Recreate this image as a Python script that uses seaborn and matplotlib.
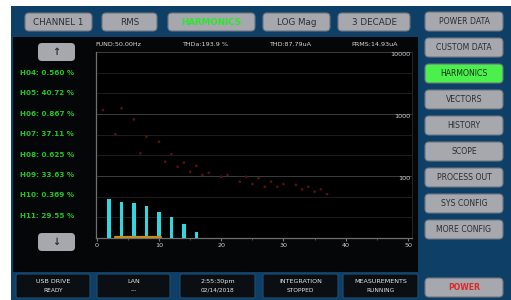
import numpy as np
import pandas as pd
import matplotlib
matplotlib.use('Agg')
import matplotlib.pyplot as plt
import seaborn as sns
from matplotlib.patches import FancyBboxPatch, Rectangle
from matplotlib.ticker import FixedLocator, NullFormatter

# spectrum data (harmonic order -> magnitude, log scale 10..10000)
bar_harm = [2, 4, 6, 8, 10, 12, 14, 16]
bar_vals = [42.6, 38.5, 36.3, 32.8, 26.5, 21.6, 16.8, 12.4]

dot_harm = [1, 3, 4, 6, 7, 8, 10, 11, 12, 13, 14, 15, 16, 17, 18, 20, 21,
            23, 24, 25, 26, 27, 28, 29, 30, 32, 33, 34, 35, 36, 37]
dot_vals = [1160, 471, 1236, 822, 232, 430, 357, 170, 224, 141, 164, 117, 145,
            104, 113, 97, 104, 81, 97, 74, 92, 67, 81, 67, 74, 72, 61, 67, 56,
            61, 51]

base_harm = [3, 10.4]
base_vals = [10.3, 10.3]

x_ticks = [0, 10, 20, 30, 40, 50]
y_ticks = [100, 1000, 10000]

# readouts on the left
read_names = ['H04', 'H05', 'H06', 'H07', 'H08', 'H09', 'H10', 'H11']
read_vals = ['0.560', '40.72', '0.867', '37.11', '0.625', '33.63', '0.369', '29.55']

info_text = ['FUND:50.00Hz', 'THDa:193.9 %', 'THD:87.79uA', 'PRMS:14.93uA']
top_buttons = ['CHANNEL 1', 'RMS', 'HARMONICS', 'LOG Mag', '3 DECADE']
side_buttons = ['POWER DATA', 'CUSTOM DATA', 'HARMONICS', 'VECTORS', 'HISTORY',
                'SCOPE', 'PROCESS OUT', 'SYS CONFIG', 'MORE CONFIG']
status_top = ['USB DRIVE', 'LAN', '2:55:30pm', 'INTEGRATION', 'MEASUREMENTS']
status_bot = ['READY', '---', '02/14/2018', 'STOPPED', 'RUNNING']

W, H = 511, 300
BLUE = '#0e3f66'
GRAY = '#a7a8ad'
DARK = '#2a2d33'

sns.set_style('dark')
plt.rcParams['font.family'] = ['DejaVu Sans']

fig = plt.figure(figsize=(W / 100, H / 100), dpi=100)
fig.patch.set_facecolor('white')

# background canvas in pixel coords
bg = fig.add_axes([0, 0, 1, 1], zorder=0)
bg.set_xlim(0, W)
bg.set_ylim(H, 0)
bg.axis('off')


def box(x0, y0, x1, y1, fc, ec='none', r=4, lw=0.8):
    bg.add_patch(FancyBboxPatch((x0 + r, y0 + r), x1 - x0 - 2 * r, y1 - y0 - 2 * r,
                                boxstyle='round,pad=%d' % r, fc=fc, ec=ec, lw=lw))


bg.add_patch(Rectangle((11, 6), W - 11, H - 6, fc=BLUE, ec='none'))
bg.add_patch(Rectangle((13, 37), 405, 235, fc='#050607', ec='none'))

# top row buttons
top_x = [(25, 92), (102, 157), (168, 255), (263, 330), (338, 410)]
for (x0, x1), lab in zip(top_x, top_buttons):
    box(x0, 13, x1, 31, GRAY, ec='#6d7480', r=4)
    if lab == 'HARMONICS':
        bg.text((x0 + x1) / 2, 22.5, lab, color='#2ee52e', fontsize=6.3,
                fontweight='bold', ha='center', va='center')
    else:
        bg.text((x0 + x1) / 2, 22.5, lab, color=DARK, fontsize=6.3,
                ha='center', va='center')

# side menu
side_y = [12, 38, 64, 90, 116, 142, 168, 194, 220]
for y0, lab in zip(side_y, side_buttons):
    active = lab == 'HARMONICS'
    box(425, y0, 503, y0 + 19, '#4cf04c' if active else GRAY,
        ec='#6d7480', r=4)
    bg.text(464, y0 + 9.5, lab, color='#163016' if active else DARK,
            fontsize=5.6, ha='center', va='center')
box(425, 278, 503, 297, GRAY, ec='#6d7480', r=4)
bg.text(464, 287.5, 'POWER', color='#e02828', fontsize=5.6, ha='center',
        va='center', fontweight='bold')

# arrows
box(38, 43, 75, 61, GRAY, r=4)
bg.text(56.5, 52, '\u2191', color=DARK, fontsize=7, ha='center', va='center',
        fontweight='bold')
box(38, 233, 75, 251, GRAY, r=4)
bg.text(56.5, 242, '\u2193', color=DARK, fontsize=7, ha='center', va='center',
        fontweight='bold')

# harmonic readouts
for i, (n, v) in enumerate(zip(read_names, read_vals)):
    bg.text(20, 73 + i * 20.4, '%s: %s %%' % (n, v), color='#22c422',
            fontsize=5.2, ha='left', va='center', fontweight='bold')

for xc, t in zip([118, 205, 290, 375], info_text):
    bg.text(xc, 45, t, color='#d8d8d8', fontsize=4.6, ha='center', va='center')

# status row
status_x = [(16, 90), (97, 170), (180, 255), (263, 338), (343, 418)]
for (x0, x1), a, b in zip(status_x, status_top, status_bot):
    box(x0, 274, x1, 298, '#0b0e12', ec='#1f4d70', r=2, lw=0.8)
    bg.text((x0 + x1) / 2, 281.5, a, color='#e6e6e6', fontsize=4.6,
            ha='center', va='center')
    bg.text((x0 + x1) / 2, 290.5, b, color='#e6e6e6', fontsize=4.2,
            ha='center', va='center')

# spectrum plot
ax = fig.add_axes([96 / W, 1 - 238 / H, (412 - 96) / W, (238 - 52) / H], zorder=1)
ax.set_facecolor('#000000')

bars = pd.DataFrame({'harm': bar_harm, 'val': bar_vals})
dots = pd.DataFrame({'harm': dot_harm, 'val': dot_vals})
base = pd.DataFrame({'harm': base_harm, 'val': base_vals})

ax.set_yscale('log')
sns.barplot(data=bars, x='harm', y='val', native_scale=True, width=0.27,
            color='#2fd8e0', saturation=1, linewidth=0, edgecolor='none',
            ax=ax, zorder=3)
sns.scatterplot(data=dots, x='harm', y='val', color='#561010', s=4,
                edgecolor='none', ax=ax, zorder=4)
sns.lineplot(data=base, x='harm', y='val', color='#c98a1a', lw=1.6, ax=ax,
             zorder=5)

ax.set_xlim(-0.11, 50.64)
ax.set_ylim(10, 10000)
ax.set_xlabel('')
ax.set_ylabel('')

ax.set_xticks(x_ticks)
ax.set_xticklabels([str(t) for t in x_ticks])
ax.xaxis.set_minor_locator(FixedLocator([5, 15, 25, 35, 45]))
ax.tick_params(axis='x', which='major', colors='#7a7a7a', labelcolor='#cfcfcf',
               labelsize=4.6, length=2, pad=1.5, bottom=True)
ax.tick_params(axis='x', which='minor', colors='#5a5a5a', length=1.5, bottom=True)

ax.set_yticks(y_ticks)
ax.set_yticklabels([str(t) for t in y_ticks])
ax.yaxis.set_minor_locator(FixedLocator([10 ** (k / 3) for k in range(3, 12)]))
ax.yaxis.set_minor_formatter(NullFormatter())
ax.yaxis.tick_right()
ax.tick_params(axis='y', which='both', length=0, labelsize=4.6,
               labelcolor='#d0d0d0', pad=-1.5)
for lab in ax.get_yticklabels():
    lab.set_ha('right')
    lab.set_va('top')

ax.grid(True, which='major', axis='y', color='#3c3c3c', lw=0.7)
ax.grid(True, which='minor', axis='y', color='#222222', lw=0.6)
ax.grid(False, axis='x')

ax.spines['top'].set_visible(False)
ax.spines['left'].set_color('#6e6e6e')
ax.spines['left'].set_linewidth(0.9)
ax.spines['bottom'].set_color('#6e6e6e')
ax.spines['bottom'].set_linewidth(0.9)
ax.spines['right'].set_color('#2a2a2a')
ax.spines['right'].set_linewidth(0.6)

fig.savefig('out.png', dpi=100, facecolor=fig.get_facecolor())
